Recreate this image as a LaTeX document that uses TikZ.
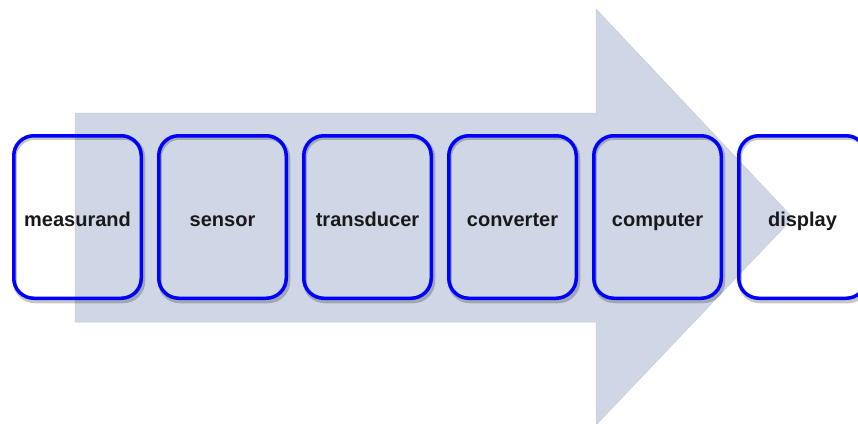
\documentclass[tikz,border=0pt]{standalone}
\usepackage{fontspec}
\setmainfont{Liberation Sans}
\definecolor{arrowfill}{RGB}{207,214,230}
\definecolor{boxblue}{RGB}{0,0,255}
\tikzset{
  stagebox/.style={draw=boxblue, line width=3.5pt, rounded corners=20pt,
    minimum width=127.5pt, minimum height=162.5pt, inner sep=0pt,
    text height=20pt, text depth=2pt,
    font=\bfseries\fontsize{20}{24}\selectfont, text=black!90},
  boxshadow/.style={draw=black, opacity=0.22, line width=4pt, rounded corners=20pt}
}
\begin{document}
\begin{tikzpicture}[x=1pt,y=-1pt]
\useasboundingbox (0,0) rectangle (858,423);
\clip (0,0) rectangle (858,423);
% big arrow
\path[fill=arrowfill, draw=black!20, line width=0.5pt]
  (75,113) -- (596,113) -- (596,9) -- (793,218) -- (596,425) -- (596,322) -- (75,322) -- cycle;
% boxes
\foreach \n/\lab [count=\i from 0] in {m/measurand, s/sensor, t/transducer, c/converter, p/computer, d/display}{
  \path (77.5+145*\i, 217) coordinate (\n-c);
  \draw[boxshadow] ([shift={(-62.75,-79.25)}]\n-c) rectangle ([shift={(65.75,84.25)}]\n-c);
  \node[stagebox] (\n) at (\n-c) {\lab};
}
\end{tikzpicture}
\end{document}
